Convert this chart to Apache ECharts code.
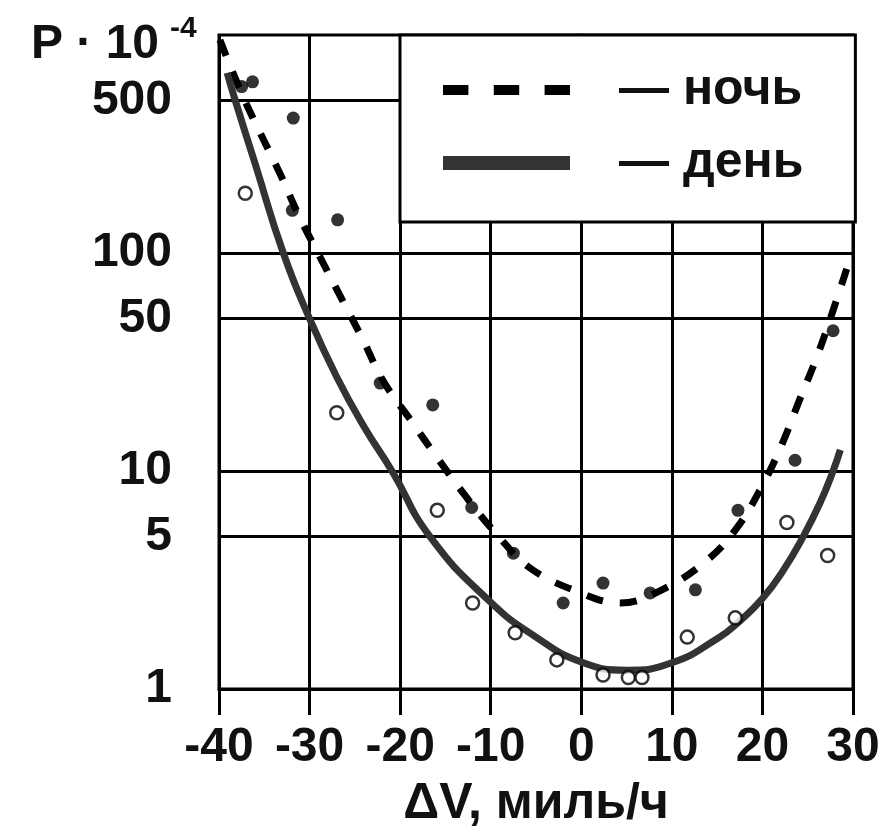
<!DOCTYPE html>
<html>
<head>
<meta charset="utf-8">
<title>P(ΔV)</title>
<script src="https://cdn.jsdelivr.net/npm/echarts@6/dist/echarts.min.js"></script>
<style>
  html, body { margin: 0; padding: 0; background: #fff; }
  #chart { width: 881px; height: 828px; }
</style>
</head>
<body>
<div id="chart"></div>
<script>
// ось X: dV, миль/ч ; ось Y: P * 10^-4 (лог)
var xTicks = [-40, -30, -20, -10, 0, 10, 20, 30];
var yTicks = [1, 5, 10, 50, 100, 500];

// ночь - пунктирная кривая
var nightCurveX = [-39.9, -37.5, -35.5, -33.3, -31.1, -28.8, -26.4, -24.1, -21.9, -18.7, -15.9, -12.6, -9.3, -5.7, -0.9, 4.3, 8.9, 13.9, 17.2, 20.0, 22.2, 24.1, 26.0, 27.7, 29.7];
var nightCurveY = [948, 540, 359, 233, 146, 95, 61, 40, 26, 16.8, 11.5, 7.5, 5.1, 3.6, 2.85, 2.48, 2.85, 3.9, 5.5, 8.6, 13.4, 21.2, 33.3, 53, 95];
// ночь - точки (закрашенные)
var nightDotX = [-37.5, -36.3, -31.8, -31.9, -26.9, -22.2, -16.4, -12.1, -7.5, -2.0, 2.4, 7.6, 12.6, 17.3, 23.6, 27.8];
var nightDotY = [580, 610, 416, 157, 142, 25.3, 20.1, 6.8, 4.2, 2.48, 3.06, 2.76, 2.85, 6.6, 11.2, 44];

// день - сплошная кривая
var dayCurveX = [-39.1, -38.2, -36.0, -32.9, -30.0, -27.0, -24.0, -20.9, -16.7, -10.0, -5.0, 0.0, 5.0, 10.0, 15.0, 17.5, 20.0, 22.3, 24.5, 26.4, 27.8, 28.6];
var dayCurveY = [670, 500, 256, 100, 50, 27, 16, 10, 5, 2.5, 1.73, 1.33, 1.22, 1.32, 1.7, 2.05, 2.6, 3.5, 5, 7.2, 10, 12.5];
// день - точки (пустые кружки)
var dayDotX = [-37.1, -27.0, -15.9, -12.0, -7.3, -2.7, 2.4, 5.2, 6.7, 11.7, 17.0, 22.7, 27.2];
var dayDotY = [188, 18.5, 6.6, 2.48, 1.81, 1.36, 1.16, 1.13, 1.13, 1.73, 2.12, 5.8, 4.1];

function pairs(xs, ys) {
  return xs.map(function (x, i) { return [x, ys[i]]; });
}

var FONT = '"Liberation Sans", Arial, sans-serif';

var chart = echarts.init(document.getElementById('chart'));

var option = {
  animation: false,
  backgroundColor: '#fff',
  textStyle: { fontFamily: FONT },
  grid: {
    left: 219, right: 28, top: 35, bottom: 139,
    show: true, borderColor: '#000', borderWidth: 3,
    outerBoundsMode: 'none'
  },
  graphic: [
    { type: 'text', left: 31, top: 21,
      style: { text: 'P \u00b7 10', font: 'bold 48px ' + FONT, fill: '#111' } },
    { type: 'text', left: 170, top: 14,
      style: { text: '-4', font: 'bold 30px ' + FONT, fill: '#111' } }
  ],
  legend: {
    left: 400, top: 35,
    orient: 'vertical',
    backgroundColor: '#fff',
    borderColor: '#000',
    borderWidth: 3,
    borderRadius: 0,
    padding: [30, 52, 34, 43],
    itemWidth: 127,
    itemHeight: 14,
    itemGap: 23,
    selectedMode: false,
    formatter: function (name) { return '\u2014 ' + name; },
    textStyle: { fontSize: 50, fontWeight: 'bold', color: '#111', lineHeight: 50, padding: [0, 0, 0, 44], fontFamily: FONT },
    data: [
      { name: 'ночь', icon: 'path://M0,0 L25,0 L25,10 L0,10 Z M50,0 L75,0 L75,10 L50,10 Z M100,0 L125,0 L125,10 L100,10 Z', itemStyle: { color: '#000' } },
      { name: 'день', icon: 'rect', itemStyle: { color: '#333' } }
    ]
  },
  xAxis: {
    type: 'value',
    min: -40, max: 30, interval: 10,
    name: 'ΔV, миль/ч',
    nameLocation: 'middle',
    nameGap: 90,
    nameTextStyle: { fontSize: 50, fontWeight: 'bold', color: '#111', fontFamily: FONT },
    axisLine: { show: true, onZero: false, lineStyle: { color: '#000', width: 3 } },
    axisTick: { show: true, inside: false, length: 26, lineStyle: { color: '#000', width: 3 } },
    axisLabel: { margin: 35, fontSize: 48, fontWeight: 'bold', color: '#111', showMinLabel: true, showMaxLabel: true, hideOverlap: false },
    splitLine: { show: true, lineStyle: { color: '#000', width: 3 } }
  },
  yAxis: {
    type: 'log',
    logBase: 10,
    min: 1, max: 1000,
    axisLine: { show: true, lineStyle: { color: '#000', width: 3 } },
    axisTick: { show: true, inside: false, length: 29, customValues: yTicks, lineStyle: { color: '#000', width: 3 } },
    axisLabel: { margin: 47, fontSize: 48, fontWeight: 'bold', color: '#111', customValues: yTicks, hideOverlap: false,
      formatter: function (v) { return String(v); } },
    splitLine: { show: true, lineStyle: { color: '#000', width: 3 } },
    minorTick: { show: false }
  },
  series: [
    {
      name: 'ночь', type: 'line', smooth: 0.4, symbol: 'none',
      lineStyle: { color: '#000', width: 7, type: [17, 17], cap: 'butt' },
      data: pairs(nightCurveX, nightCurveY), z: 3
    },
    {
      name: 'день', type: 'line', smooth: 0.5, symbol: 'none',
      lineStyle: { color: '#333', width: 7 },
      data: pairs(dayCurveX, dayCurveY), z: 3
    },
    {
      name: 'ночь-точки', type: 'scatter', symbol: 'circle', symbolSize: 13,
      itemStyle: { color: '#000' },
      data: pairs(nightDotX, nightDotY), z: 4
    },
    {
      name: 'день-точки', type: 'scatter', symbol: 'circle', symbolSize: 13,
      itemStyle: { color: '#fff', borderColor: '#000', borderWidth: 2.5 },
      data: pairs(dayDotX, dayDotY), z: 4
    }
  ]
};

chart.setOption(option);
</script>
</body>
</html>
